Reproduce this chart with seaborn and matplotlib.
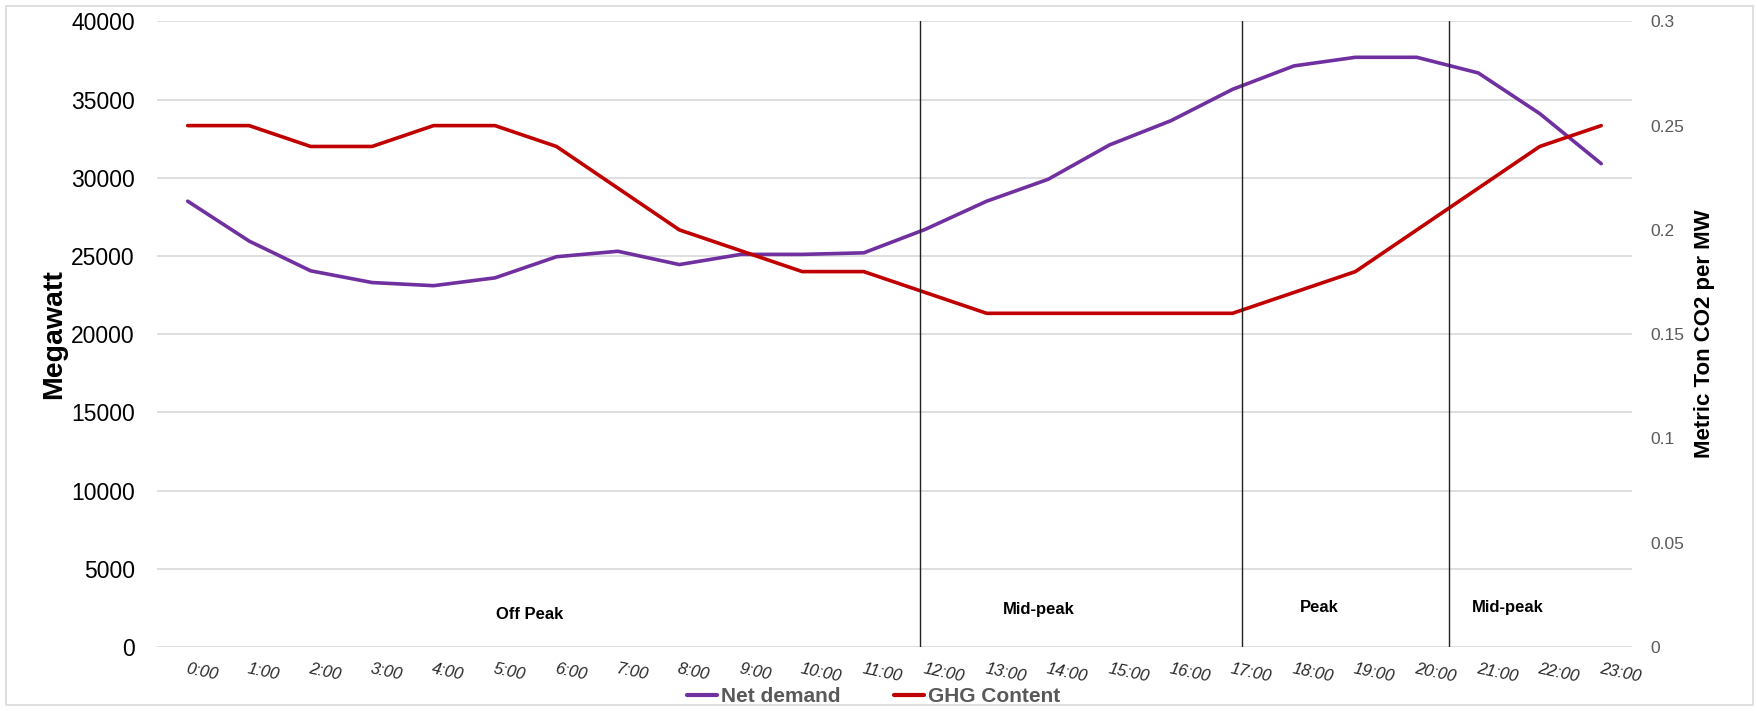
import matplotlib
matplotlib.use("Agg")
import matplotlib.pyplot as plt
import seaborn as sns
import pandas as pd
from matplotlib.lines import Line2D
from matplotlib.patches import Rectangle

# Hourly profile
hours = [f"{h}:00" for h in range(24)]
net_demand = [28500, 25950, 24050, 23300, 23100, 23600, 24950, 25300, 24450, 25100, 25100, 25200,
              26700, 28500, 29900, 32100, 33650, 35650, 37150, 37700, 37700, 36700, 34100, 30900]
ghg_content = [0.25, 0.25, 0.24, 0.24, 0.25, 0.25, 0.24, 0.22, 0.20, 0.19, 0.18, 0.18,
               0.17, 0.16, 0.16, 0.16, 0.16, 0.16, 0.17, 0.18, 0.20, 0.22, 0.24, 0.25]

# Tariff periods
period_bounds = [11.92, 17.15, 20.52]
period_names = ["Off Peak", "Mid-peak", "Peak", "Mid-peak"]
period_label_x = [5.57, 13.84, 18.41, 21.48]
period_label_y = [2100, 2400, 2550, 2550]

left_ticks = [0, 5000, 10000, 15000, 20000, 25000, 30000, 35000, 40000]
right_ticks = [0, 0.05, 0.1, 0.15, 0.2, 0.25, 0.3]
right_tick_labels = ["0", "0.05", "0.1", "0.15", "0.2", "0.25", "0.3"]

PURPLE = "#7030A0"
RED = "#C00000"
GRID = "#D9D9D9"
GRAY_TXT = "#595959"

sns.set_theme(style="white")
plt.rcParams["font.family"] = ["Liberation Sans", "DejaVu Sans"]

df = pd.DataFrame({"hour": hours, "net": net_demand, "ghg": ghg_content})

fig = plt.figure(figsize=(17.58, 7.11), dpi=100)
fig.patches.append(Rectangle((6 / 1758, 6 / 711), 1747 / 1758, 699 / 711,
                             transform=fig.transFigure, fill=False,
                             edgecolor=GRID, linewidth=1.2))

ax = fig.add_axes([0.0893, 0.090, 0.8390, 0.880])
sns.lineplot(data=df, x="hour", y="net", ax=ax, color=PURPLE, linewidth=2.6, sort=False)
ax2 = ax.twinx()
sns.lineplot(data=df, x="hour", y="ghg", ax=ax2, color=RED, linewidth=2.6, sort=False)

ax.set_xlim(-0.5, 23.5)
ax.set_ylim(0, 40000)
ax.set_yticks(left_ticks)
ax.set_yticklabels([str(t) for t in left_ticks], fontsize=16.5, color="black")
ax.yaxis.grid(True, color=GRID, linewidth=1.2)
ax.set_axisbelow(True)

ax2.set_ylim(0, 0.3)
ax2.set_yticks(right_ticks)
ax2.set_yticklabels(right_tick_labels, fontsize=12.5, color=GRAY_TXT)
ax2.grid(False)

for a in (ax, ax2):
    for s in a.spines.values():
        s.set_visible(False)
ax.tick_params(axis="both", length=0)
ax2.tick_params(axis="both", length=0)
ax.tick_params(axis="y", pad=16)
ax2.tick_params(axis="y", pad=13.5)

ax.set_xticks(range(len(hours)))
ax.set_xticklabels(hours, fontsize=12, style="italic", rotation=-12,
                   ha="left", va="top", rotation_mode="anchor")
ax.tick_params(axis="x", pad=10)
ax.set_xlabel("")

ax.set_ylabel("Megawatt", fontsize=20.5, fontweight="bold", color="black")
ax.yaxis.set_label_coords(-0.0606, 0.5)
ax2.set_ylabel("Metric Ton CO2 per MW", fontsize=16, fontweight="bold", color="black")
ax2.yaxis.set_label_coords(1.042, 0.5)

# Period boundaries and names
for xb in period_bounds:
    ax2.plot([xb, xb], [0, 0.3], color="#222222", linewidth=1.0, zorder=5)
for name, xl, yl in zip(period_names, period_label_x, period_label_y):
    ax.text(xl, yl, name, fontsize=12, fontweight="bold", color="black",
            ha="center", va="center")

handles = [Line2D([], [], color=PURPLE, linewidth=3),
           Line2D([], [], color=RED, linewidth=3)]
fig.legend(handles, ["Net demand", "GHG Content"], loc="center",
           bbox_to_anchor=(0.497, 0.02), ncol=2, frameon=False,
           handlelength=1.4, handletextpad=0.2, columnspacing=2.6,
           prop={"size": 15, "weight": "bold"}, labelcolor=GRAY_TXT)

fig.savefig("out.png", dpi=100)
